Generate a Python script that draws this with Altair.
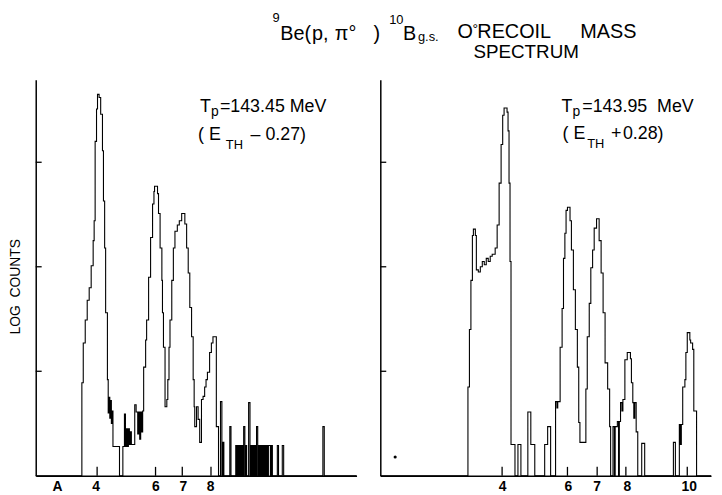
import altair as alt
import pandas as pd

FONT = "Liberation Sans"

# ---- data: channel number vs log10(counts) (step histogram, value holds from channel onward)
LEFT_CH = [0, 23.3, 24, 25, 26, 27, 28, 29, 29.5, 30, 30.7, 31.2, 32, 32.8, 33.7, 34.2, 34.8,
           35.3, 36.2, 36.6, 37, 37.4, 37.8, 38.2, 38.6, 39, 42.3, 44, 44.8, 45.3, 45.8, 46.3,
           46.8, 47.3, 47.8, 48.3, 50, 50.7, 51.5, 52, 52.5, 53, 53.5, 54, 54.5, 55.5, 56, 57,
           58, 59, 59.7, 60, 61.5, 62, 62.8, 63.7, 64, 64.5, 65.3, 66.2, 66.7, 67.3, 67.8, 68.7,
           69.5, 70.3, 71.5, 72.5, 73.7, 75.3, 76.2, 77, 77.8, 78.7, 79.5, 80, 80.3, 81.2, 82,
           82.8, 83.7, 84.5, 85.3, 86, 86.7, 87.8, 88.7, 89.5, 91.2, 92.3, 93.3, 94, 94.5, 95,
           98, 98.6, 101, 101.5, 102, 102.5, 103, 103.5, 104, 104.5, 105, 105.6, 106, 106.5,
           107.5, 108.2, 108.5, 109, 109.5, 110, 110.5, 111, 111.5, 112.1, 112.5, 113, 113.5,
           114, 114.5, 115, 115.5, 116, 116.5, 117, 117.5, 118.5, 119, 119.5, 122, 122.6,
           124.5, 125.2, 145, 145.7, 162]
LEFT_LOG = [0, 0.89, 1.27, 1.49, 1.68, 1.80, 2.01, 2.25, 2.44, 3.20, 3.51, 3.65, 3.62, 3.46,
            3.11, 2.63, 2.18, 1.56, 0.92, 0.60, 0.75, 0.55, 0.72, 0.50, 0.62, 0.28, 0, 0.28,
            0.59, 0.28, 0.45, 0.28, 0.45, 0.30, 0.42, 0.30, 0.68, 0.61, 0.40, 0.61, 0.35, 0.61,
            0.42, 0.62, 1.04, 1.30, 1.49, 1.90, 2.28, 2.60, 2.72, 2.77, 2.70, 2.51, 2.18, 1.87,
            1.56, 1.23, 0.66, 0.73, 0.92, 1.23, 1.49, 1.87, 2.18, 2.34, 2.40, 2.44, 2.51, 2.41,
            2.18, 1.94, 1.61, 1.33, 0.92, 0.66, 0.47, 0.66, 0.54, 0.32, 0.73, 0.76, 0.85, 0.92,
            0.99, 1.18, 1.27, 1.33, 0.47, 0, 0.71, 0, 0.32, 0,
            0.47, 0, 0.29, 0, 0.29, 0, 0.29, 0, 0.29, 0, 0.47, 0, 0.29, 0,
            0.70, 0, 0.29, 0, 0.29, 0, 0.29, 0, 0.47, 0, 0.29, 0, 0.29,
            0, 0.29, 0, 0.29, 0, 0.29, 0, 0.29, 0, 0.29, 0, 0.29, 0,
            0.29, 0, 0.47, 0, 0]

RIGHT_CH = [0, 44.25, 45, 45.75, 46.5, 47, 48, 48.5, 49.5, 50.5, 51.5, 52.5, 53.5, 54.5, 55.5,
            56.5, 58, 59, 60, 61, 61.8, 62.5, 64, 64.5, 65, 65.5, 66, 68, 69.5, 71, 74.5, 76,
            78, 83, 84.5, 86, 88.5, 89.2, 89.6, 90.8, 91.8, 92.5, 93.2, 93.8, 94.5, 95.8, 96.5,
            97.5, 98.5, 99.5, 100.2, 100.8, 103.8, 104.5, 105.5, 106.3, 107.2, 108, 109.2,
            110.5, 111.5, 112.5, 113.5, 114.8, 115.8, 116.3, 117.5, 118.2, 118.6, 119.7, 120.3,
            120.7, 121.3, 122, 122.5, 123.5, 124.7, 126.3, 126.8, 127.5, 128, 128.5, 129.2,
            130, 132, 133.5, 148, 149, 151, 151.5, 152, 152.7, 153.8, 154.3, 155, 156.3,
            156.7, 157.7, 158.3, 159.7, 167]
RIGHT_LOG = [0, 0.85, 1.40, 1.87, 2.30, 2.36, 2.30, 1.97, 1.95, 2.00, 2.05, 2.02, 2.08, 2.05,
             2.10, 2.12, 2.18, 2.40, 2.80, 3.17, 3.45, 3.52, 3.48, 3.30, 2.80, 2.05, 0.30, 0,
             0.30, 0, 0.61, 0.30, 0, 0.30, 0.47, 0, 0.71, 0.65, 0.71, 1.23, 1.60, 2.08, 2.32,
             2.54, 2.57, 2.44, 2.16, 1.78, 1.40, 1.04, 0.51, 0.32, 0.83, 1.33, 1.65, 1.99,
             2.16, 2.37, 2.46, 2.25, 1.94, 1.56, 1.08, 0.83, 0.47, 0, 0.47, 0, 0.47, 0.52, 0,
             0.52, 0.70, 0.62, 0.73, 1.11, 1.18, 1.12, 0.89, 0.70, 0.55, 0.70, 0.42, 0, 0.31,
             0, 0.32, 0, 0.49, 0.30, 0.49, 0.85, 0.92, 1.18, 1.37, 1.30, 1.27, 1.21, 0.62, 0, 0]

DECADE_TICKS = [1, 2, 3]

LEFT_MASS_CH = [31, 60.5, 74, 88.5]
LEFT_LABEL_CH = [11, 30.5, 60.7, 74.5, 88.3]
LEFT_LABEL_TEXT = ["A", "4", "6", "7", "8"]

RIGHT_MASS_CH = [61.5, 94.5, 109.5, 124, 155]
RIGHT_LABEL_CH = [61.7, 95, 109.5, 124.7, 156]
RIGHT_LABEL_TEXT = ["4", "6", "7", "8", "10"]

STRAY_CH = [7.5]
STRAY_LOG = [0.18]

YMAX = 3.79
H = 400
W_LEFT, X_LEFT = 324, 162
W_RIGHT, X_RIGHT = 334, 167


def text_piece(t, px, py, size, angle=0, align="left", baseline="alphabetic"):
    return alt.Chart(alt.Data(values=[{}])).mark_text(
        text=t, font=FONT, fontSize=size, color="black", align=align,
        baseline=baseline, angle=angle
    ).encode(x=alt.value(px), y=alt.value(py))


def panel(ch, lg, mass_ch, lab_ch, lab_txt, width, xmax, pieces, extra=None):
    xs = alt.Scale(domain=[0, xmax], nice=False, zero=False)
    ys = alt.Scale(domain=[0, YMAX], nice=False, zero=False)
    ax = alt.Axis(title=None, labels=False, ticks=False, grid=False,
                  domainColor="black", domainWidth=1.5)
    hist = alt.Chart(pd.DataFrame({"ch": ch, "lg": lg})).mark_line(
        interpolate="step-after", color="black", strokeWidth=1.1
    ).encode(x=alt.X("ch:Q", scale=xs, axis=ax), y=alt.Y("lg:Q", scale=ys, axis=ax))
    yt = alt.Chart(pd.DataFrame({"lg": DECADE_TICKS})).mark_rule(
        color="black", strokeWidth=1.3
    ).encode(y=alt.Y("lg:Q", scale=ys), x=alt.value(0), x2=alt.value(6))
    xt = alt.Chart(pd.DataFrame({"ch": mass_ch})).mark_rule(
        color="black", strokeWidth=1.3
    ).encode(x=alt.X("ch:Q", scale=xs), y=alt.value(H), y2=alt.value(H - 9))
    lab = alt.Chart(pd.DataFrame({"ch": lab_ch, "t": lab_txt})).mark_text(
        font=FONT, fontSize=14, fontWeight="bold", color="black", baseline="alphabetic"
    ).encode(x=alt.X("ch:Q", scale=xs), y=alt.value(H + 15), text="t:N")
    layers = [hist, yt, xt, lab]
    if extra is not None:
        layers.append(extra(xs, ys))
    layers += [text_piece(*p) for p in pieces]
    return alt.layer(*layers).properties(width=width, height=H)


# annotation pieces: (text, x, y, size[, angle, align, baseline]) in panel pixels
left_pieces = [
    ("T", 166, 33, 18),
    ("p", 177, 37, 14),
    ("=143.45 MeV", 186, 33, 18),
    ("( E", 164, 61, 18),
    ("TH", 192, 70, 13),
    ("–", 217, 61, 18),
    ("0.27)", 232, 61, 18),
    ("LOG\u00a0\u00a0COUNTS", -20, 209, 14, 270, "center", "middle"),
    ("9", 239, -58, 13),
    ("Be(", 247, -40, 20),
    ("p,", 279, -40, 20),
    ("π°", 302, -40, 20),
    (")", 341, -40, 20),
    ("10", 357, -56, 13),
    ("B", 371, -40, 20),
    ("g.s.", 386, -39, 13),
    ("O", 426, -42, 20),
    ("°", 441, -46, 14),
    ("RECOIL", 446, -42, 20),
    ("MASS", 550, -42, 20),
    ("SPECTRUM", 442, -22, 19),
]

right_pieces = [
    ("T", 183, 33, 18),
    ("p", 194, 37, 14),
    ("=143.95\u00a0\u00a0MeV", 204, 33, 18),
    ("( E", 184, 60, 18),
    ("TH", 209, 69, 13),
    ("+", 233, 60, 18),
    ("0.28)", 245, 60, 18),
]


def stray(xs, ys):
    return alt.Chart(pd.DataFrame({"ch": STRAY_CH, "lg": STRAY_LOG})).mark_circle(
        color="black", size=10, opacity=1
    ).encode(x=alt.X("ch:Q", scale=xs), y=alt.Y("lg:Q", scale=ys))


left = panel(LEFT_CH, LEFT_LOG, LEFT_MASS_CH, LEFT_LABEL_CH, LEFT_LABEL_TEXT,
             W_LEFT, X_LEFT, left_pieces)
right = panel(RIGHT_CH, RIGHT_LOG, RIGHT_MASS_CH, RIGHT_LABEL_CH, RIGHT_LABEL_TEXT,
              W_RIGHT, X_RIGHT, right_pieces, extra=stray)

chart = alt.hconcat(left, right, spacing=24, bounds="flush").properties(
    padding={"left": 1, "top": 2, "right": 0, "bottom": 0},
    background="white",
).configure_view(stroke=None)

chart.save("out.html", embed_options={"renderer": "svg", "actions": False})
